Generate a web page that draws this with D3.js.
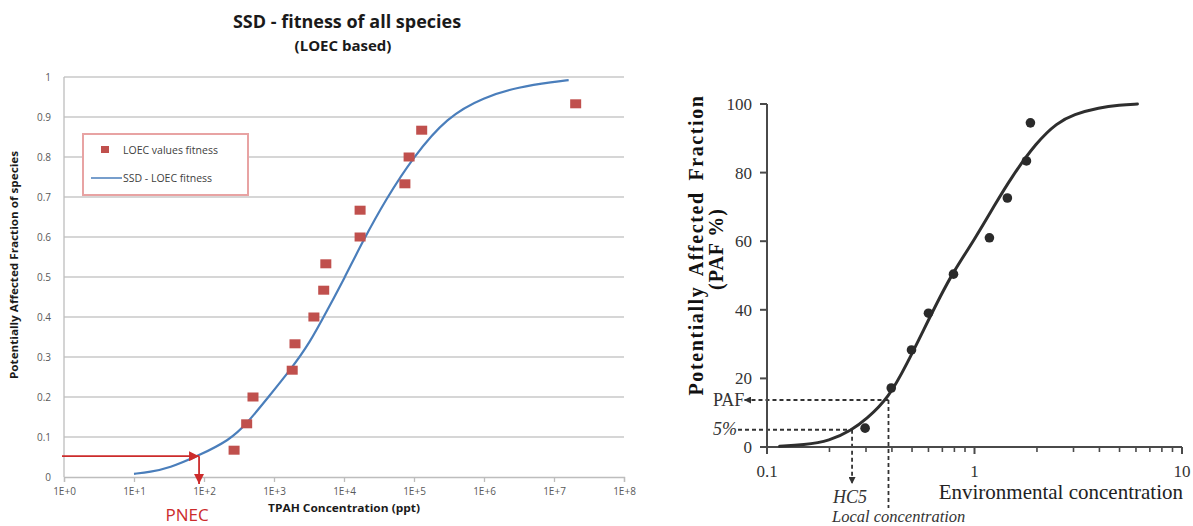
<!DOCTYPE html>
<html><head><meta charset="utf-8">
<script src="https://cdn.jsdelivr.net/npm/d3@7"></script>
<style>
html,body{margin:0;padding:0;background:#fff;}
svg{display:block;}
</style></head>
<body>
<svg id="c" width="1193" height="526"></svg>
<script>
// ---------- Left chart data ----------
const leftTitle = ["SSD - fitness of all species", "(LOEC based)"];
const leftXTicks = [1e0, 1e1, 1e2, 1e3, 1e4, 1e5, 1e6, 1e7, 1e8];
const leftYTicks = [0, 0.1, 0.2, 0.3, 0.4, 0.5, 0.6, 0.7, 0.8, 0.9, 1];
const loecConc = [269, 407, 501, 1820, 1995, 3715, 5130, 5500, 16980, 16980, 74130, 85110, 128800, 20400000];
const loecFrac = [0.067, 0.133, 0.2, 0.267, 0.333, 0.4, 0.467, 0.533, 0.6, 0.667, 0.733, 0.8, 0.867, 0.933];
const ssdConc = [10, 17, 31.6, 82, 234, 407, 832, 1698, 3236, 5888, 10000, 18620, 39810, 97720, 295100, 1e6, 3.16e6, 1e7, 1.62e7];
const ssdFrac = [0.008, 0.0125, 0.022, 0.0525, 0.0925, 0.133, 0.2, 0.267, 0.335, 0.42, 0.495, 0.59, 0.695, 0.8, 0.9, 0.95, 0.975, 0.988, 0.992];
const pnecConc = 85, pnecFrac = 0.052;
const legendLabels = ["LOEC values fitness", "SSD - LOEC fitness"];

// ---------- Right chart data ----------
const rightMajor = [0.1, 1, 10];
const rightMinor = [0.2,0.3,0.4,0.5,0.6,0.7,0.8,0.9,2,3,4,5,6,7,8,9];
const rightYTicks = [0, 20, 40, 60, 80, 100];
const pafConc = [0.297, 0.397, 0.497, 0.6, 0.792, 1.18, 1.44, 1.78, 1.86];
const pafVal  = [5.5, 17.2, 28.3, 39, 50.4, 61, 72.6, 83.4, 94.5];
const fitConc = [0.115, 0.15, 0.2, 0.257, 0.3, 0.385, 0.475, 0.567, 0.685, 0.79, 1.0, 1.25, 1.5, 2.0, 2.5, 3.0, 4.0, 5.0, 6.1];
const fitPAF  = [0.2, 0.6, 1.7, 5, 8, 14.2, 24.5, 34, 44, 51, 60.5, 70.5, 78.5, 89, 94.5, 97, 99, 99.7, 100];
const hc5Conc = 0.257, hc5PAF = 5;
const localConc = 0.385, localPAF = 13.7;

const svg = d3.select("#c");
const defs = svg.append("defs");
function marker(id, color, w, h) {
  defs.append("marker").attr("id", id).attr("viewBox", "0 0 10 10")
    .attr("refX", 10).attr("refY", 5).attr("markerWidth", w).attr("markerHeight", h)
    .attr("markerUnits", "userSpaceOnUse").attr("orient", "auto")
    .append("path").attr("d", "M0,0L10,5L0,10Z").attr("fill", color);
}
marker("redArrow", "#cc2b2b", 12, 10);
marker("blkArrow", "#333", 7, 7);

// ================= LEFT CHART =================
const LF = "'Open Sans', 'Liberation Sans', sans-serif";
const xL = d3.scaleLog().domain([1, 1e8]).range([64, 624]);
const yL = d3.scaleLinear().domain([0, 1]).range([477, 77]);
const gL = svg.append("g");

// title
gL.append("text").attr("x", 347).attr("y", 28).attr("text-anchor", "middle")
  .attr("font-family", LF).attr("font-weight", "bold").attr("font-size", 18).attr("fill", "#1a1a1a")
  .text(leftTitle[0]);
gL.append("text").attr("x", 343).attr("y", 51).attr("text-anchor", "middle")
  .attr("font-family", LF).attr("font-weight", "bold").attr("font-size", 15).attr("fill", "#1a1a1a")
  .text(leftTitle[1]);

// gridlines
gL.selectAll("line.grid").data(leftYTicks.filter(d => d > 0)).join("line")
  .attr("x1", xL(1)).attr("x2", xL(1e8)).attr("y1", d => yL(d)).attr("y2", d => yL(d))
  .attr("stroke", "#c9c9c9").attr("stroke-width", 1.3);

// y axis
gL.append("line").attr("x1", xL(1)).attr("x2", xL(1)).attr("y1", yL(1)).attr("y2", yL(0))
  .attr("stroke", "#bdbdbd").attr("stroke-width", 1.3);
gL.selectAll("text.yt").data(leftYTicks).join("text")
  .attr("x", 51).attr("y", d => yL(d) + 3.5).attr("text-anchor", "end")
  .attr("font-family", LF).attr("font-size", 10).attr("fill", "#595959")
  .text(d => d3.format("~g")(d));

// x axis
const axL = d3.axisBottom(xL).tickValues(leftXTicks)
  .tickFormat(d => "1E+" + Math.round(Math.log10(d))).tickSize(5).tickPadding(6);
const gx = gL.append("g").attr("transform", `translate(0,${yL(0)})`).call(axL);
gx.select(".domain").attr("stroke", "#bdbdbd").attr("stroke-width", 1.3);
gx.selectAll(".tick line").attr("stroke", "#bdbdbd").attr("stroke-width", 1.3);
gx.selectAll(".tick text").attr("font-family", LF).attr("font-size", 10).attr("fill", "#595959");

gL.append("text").attr("x", 344).attr("y", 512).attr("text-anchor", "middle")
  .attr("font-family", LF).attr("font-weight", "bold").attr("font-size", 11).attr("fill", "#1a1a1a")
  .attr("textLength", 152).attr("lengthAdjust", "spacingAndGlyphs")
  .text("TPAH Concentration (ppt)");
gL.append("text").attr("transform", "translate(18,265) rotate(-90)").attr("text-anchor", "middle")
  .attr("font-family", LF).attr("font-weight", "bold").attr("font-size", 10).attr("fill", "#1a1a1a")
  .attr("textLength", 228).attr("lengthAdjust", "spacingAndGlyphs")
  .text("Potentially Affected Fraction of species");

// SSD curve
const ssd = ssdConc.map((c, i) => [c, ssdFrac[i]]);
gL.append("path").datum(ssd)
  .attr("d", d3.line().x(d => xL(d[0])).y(d => yL(d[1])).curve(d3.curveBasis))
  .attr("fill", "none").attr("stroke", "#4a7ebb").attr("stroke-width", 2.2);

// LOEC squares
const loec = loecConc.map((c, i) => [c, loecFrac[i]]);
gL.selectAll("rect.pt").data(loec).join("rect")
  .attr("x", d => xL(d[0]) - 5.5).attr("y", d => yL(d[1]) - 4.5)
  .attr("width", 11).attr("height", 9).attr("fill", "#c0504d");

// PNEC arrows
gL.append("line").attr("x1", xL(1) - 2).attr("x2", xL(pnecConc)).attr("y1", yL(pnecFrac)).attr("y2", yL(pnecFrac))
  .attr("stroke", "#cc2b2b").attr("stroke-width", 1.8).attr("marker-end", "url(#redArrow)");
gL.append("line").attr("x1", xL(pnecConc)).attr("x2", xL(pnecConc)).attr("y1", yL(pnecFrac)).attr("y2", yL(0) + 7)
  .attr("stroke", "#cc2b2b").attr("stroke-width", 1.8).attr("marker-end", "url(#redArrow)");
gL.append("text").attr("x", 187).attr("y", 521).attr("text-anchor", "middle")
  .attr("font-family", LF).attr("font-size", 17).attr("fill", "#cc2b2b").text("PNEC");

// legend
const lg = gL.append("g");
lg.append("rect").attr("x", 83).attr("y", 134).attr("width", 165).attr("height", 61)
  .attr("fill", "#fff").attr("stroke", "#e8a3a3").attr("stroke-width", 2);
lg.append("rect").attr("x", 101).attr("y", 146).attr("width", 8).attr("height", 7).attr("fill", "#c0504d");
lg.append("text").attr("x", 123).attr("y", 154).attr("font-family", LF).attr("font-size", 10.5)
  .attr("fill", "#404040").text(legendLabels[0]);
lg.append("line").attr("x1", 91).attr("x2", 122).attr("y1", 178).attr("y2", 178)
  .attr("stroke", "#4a7ebb").attr("stroke-width", 1.5);
lg.append("text").attr("x", 123).attr("y", 182).attr("font-family", LF).attr("font-size", 10.5)
  .attr("fill", "#404040").text(legendLabels[1]);

// ================= RIGHT CHART =================
const RF = "'Liberation Serif', 'Times New Roman', serif";
const xR = d3.scaleLog().domain([0.1, 10]).range([767, 1182]);
const yR = d3.scaleLinear().domain([0, 100]).range([447, 104]);
const gR = svg.append("g");
const axisCol = "#4a4a4a";

// dashed guide lines
const dash = "4,3";
gR.append("line").attr("x1", 738).attr("x2", xR(hc5Conc)).attr("y1", yR(hc5PAF)).attr("y2", yR(hc5PAF))
  .attr("stroke", "#333").attr("stroke-width", 2).attr("stroke-dasharray", dash);
gR.append("line").attr("x1", xR(hc5Conc)).attr("x2", xR(hc5Conc)).attr("y1", yR(hc5PAF)).attr("y2", 484)
  .attr("stroke", "#333").attr("stroke-width", 1.8).attr("stroke-dasharray", dash).attr("marker-end", "url(#blkArrow)");
gR.append("line").attr("x1", xR(localConc)).attr("x2", 744).attr("y1", yR(localPAF)).attr("y2", yR(localPAF))
  .attr("stroke", "#333").attr("stroke-width", 2).attr("stroke-dasharray", dash).attr("marker-end", "url(#blkArrow)");
gR.append("line").attr("x1", xR(localConc)).attr("x2", xR(localConc)).attr("y1", yR(localPAF)).attr("y2", 508)
  .attr("stroke", "#333").attr("stroke-width", 1.8).attr("stroke-dasharray", dash);

// axes
gR.append("line").attr("x1", xR(0.1)).attr("x2", xR(0.1)).attr("y1", yR(100)).attr("y2", yR(0))
  .attr("stroke", axisCol).attr("stroke-width", 2);
gR.append("line").attr("x1", xR(0.1)).attr("x2", xR(10)).attr("y1", yR(0)).attr("y2", yR(0))
  .attr("stroke", axisCol).attr("stroke-width", 2);
gR.selectAll("line.yt").data(rightYTicks).join("line")
  .attr("x1", xR(0.1) - 7).attr("x2", xR(0.1)).attr("y1", d => yR(d)).attr("y2", d => yR(d))
  .attr("stroke", axisCol).attr("stroke-width", 2);
gR.selectAll("text.ytl").data(rightYTicks).join("text")
  .attr("x", 752).attr("y", d => yR(d) + 6).attr("text-anchor", "end")
  .attr("font-family", RF).attr("font-size", 17).attr("fill", "#333").text(d => d);
gR.selectAll("line.xmaj").data(rightMajor).join("line")
  .attr("x1", d => xR(d)).attr("x2", d => xR(d)).attr("y1", yR(0)).attr("y2", yR(0) + 7)
  .attr("stroke", axisCol).attr("stroke-width", 2);
gR.selectAll("line.xmin").data(rightMinor).join("line")
  .attr("x1", d => xR(d)).attr("x2", d => xR(d)).attr("y1", yR(0)).attr("y2", yR(0) + 5)
  .attr("stroke", axisCol).attr("stroke-width", 1.6);
gR.selectAll("text.xtl").data(rightMajor).join("text")
  .attr("x", d => xR(d)).attr("y", 477).attr("text-anchor", "middle")
  .attr("font-family", RF).attr("font-size", 17).attr("fill", "#333").text(d => d);

// labels
gR.append("text").attr("x", 1183).attr("y", 499).attr("text-anchor", "end")
  .attr("font-family", RF).attr("font-size", 21).attr("fill", "#222").text("Environmental concentration");
gR.append("text").attr("transform", "translate(703,245) rotate(-90)").attr("text-anchor", "middle")
  .attr("font-family", RF).attr("font-weight", "bold").attr("font-size", 20).attr("fill", "#111")
  .attr("letter-spacing", 1.6).attr("word-spacing", 4)
  .text("Potentially Affected Fraction");
gR.append("text").attr("transform", "translate(723,249) rotate(-90)").attr("text-anchor", "middle")
  .attr("font-family", RF).attr("font-weight", "bold").attr("font-size", 20).attr("fill", "#111")
  .attr("letter-spacing", 1)
  .text("(PAF %)");
gR.append("text").attr("x", 713).attr("y", 406).attr("font-family", RF).attr("font-size", 18)
  .attr("fill", "#333").text("PAF");
gR.append("text").attr("x", 713).attr("y", 435).attr("font-family", RF).attr("font-style", "italic")
  .attr("font-size", 18).attr("fill", "#333").text("5%");
gR.append("text").attr("x", 850).attr("y", 503).attr("text-anchor", "middle").attr("font-family", RF)
  .attr("font-style", "italic").attr("font-size", 18).attr("fill", "#333").text("HC5");
gR.append("text").attr("x", 832).attr("y", 522).attr("font-family", RF)
  .attr("font-style", "italic").attr("font-size", 16.5).attr("fill", "#333").text("Local concentration");

// fitted curve
const fit = fitConc.map((c, i) => [c, fitPAF[i]]);
gR.append("path").datum(fit)
  .attr("d", d3.line().x(d => xR(d[0])).y(d => yR(d[1])).curve(d3.curveBasis))
  .attr("fill", "none").attr("stroke", "#2e2e2e").attr("stroke-width", 3).attr("stroke-linecap", "round");

// points
const paf = pafConc.map((c, i) => [c, pafVal[i]]);
gR.selectAll("circle.pt").data(paf).join("circle")
  .attr("cx", d => xR(d[0])).attr("cy", d => yR(d[1])).attr("r", 4.8).attr("fill", "#2a2a2a");
</script>
</body></html>
